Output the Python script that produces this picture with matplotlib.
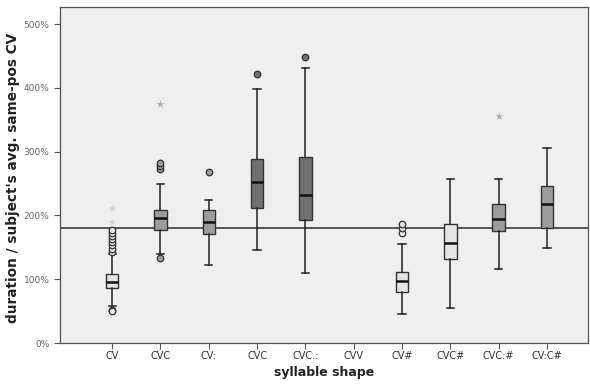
import matplotlib.pyplot as plt
from matplotlib.ticker import FuncFormatter

# syllable shapes and box summaries (values in %)
shapes = ['CV', 'CVC', 'CV:', 'CVC', 'CVC.:', 'CVV', 'CV#', 'CVC#', 'CVC:#', 'CV:C#']
q1 = [86, 177, 171, 211, 193, None, 80, 131, 176, 180]
med = [96, 196, 189, 253, 232, None, 97, 157, 195, 218]
q3 = [108, 208, 208, 289, 292, None, 111, 186, 218, 246]
whislo = [58, 140, 122, 146, 110, None, 45, 55, 116, 149]
whishi = [140, 250, 224, 399, 431, None, 155, 257, 257, 306]
circles = [[52, 50, 143, 148, 153, 158, 163, 168, 173, 177],
           [133, 273, 278, 282],
           [268],
           [422],
           [449],
           [],
           [172, 180, 186],
           [], [], []]
stars = [[190, 212], [375], [], [], [], [], [], [], [356], []]
ref_level = 180

box_colors = ['#e4e4e4', '#9c9c9c', '#9c9c9c', '#707070', '#707070', '#cccccc',
              '#e4e4e4', '#e4e4e4', '#9c9c9c', '#9c9c9c']
star_colors = ['#d6d6d6', '#b0b0b0', '#b0b0b0', '#b0b0b0', '#b0b0b0', '#b0b0b0',
               '#b0b0b0', '#b0b0b0', '#b0b0b0', '#b0b0b0']

fig = plt.figure(figsize=(5.9, 3.85), dpi=100)
ax = fig.add_axes([0.1017, 0.109, 0.895, 0.873])
ax.set_facecolor('#efefef')

ax.axhline(ref_level, color='#555555', lw=1.4, zorder=1)

for i in range(len(shapes)):
    x = i + 1
    if med[i] is None:
        continue
    st = dict(med=med[i], q1=q1[i], q3=q3[i], whislo=whislo[i], whishi=whishi[i], fliers=[])
    ax.bxp([st], positions=[x], widths=0.26, patch_artist=True, showfliers=False,
           capwidths=[0.15],
           boxprops=dict(facecolor=box_colors[i], edgecolor='#333333', lw=1.0),
           medianprops=dict(color='#111111', lw=1.8),
           whiskerprops=dict(color='#222222', lw=1.1),
           capprops=dict(color='#222222', lw=1.1), manage_ticks=False)
    if circles[i]:
        ax.scatter([x] * len(circles[i]), circles[i], s=22, facecolor=box_colors[i],
                   edgecolor='#333333', lw=0.9, zorder=4)
    if stars[i]:
        ax.scatter([x] * len(stars[i]), stars[i], marker='*', s=35,
                   color=star_colors[i], lw=0, zorder=4)

ax.set_xlim(-0.08, 10.85)
ax.set_ylim(0, 527)
ax.set_xticks(range(1, len(shapes) + 1))
ax.set_xticklabels(shapes, fontsize=7, color='#333333')
ax.set_yticks(range(0, 501, 100))
ax.yaxis.set_major_formatter(FuncFormatter(lambda v, p: '%d%%' % v))
ax.tick_params(axis='y', labelsize=6.5, labelcolor='#666666', length=4, color='#555555')
ax.tick_params(axis='x', length=4, color='#555555', pad=2)
for s in ax.spines.values():
    s.set_color('#555555')
    s.set_linewidth(0.9)

ax.set_xlabel('syllable shape', fontsize=9, fontweight='bold', color='#222222', labelpad=3)
ax.set_ylabel("duration / subject's avg. same-pos CV", fontsize=9.8, fontweight='bold',
              color='#222222', labelpad=0)
ax.yaxis.set_label_coords(-0.075, 0.49)

fig.savefig('out.png', dpi=100)
